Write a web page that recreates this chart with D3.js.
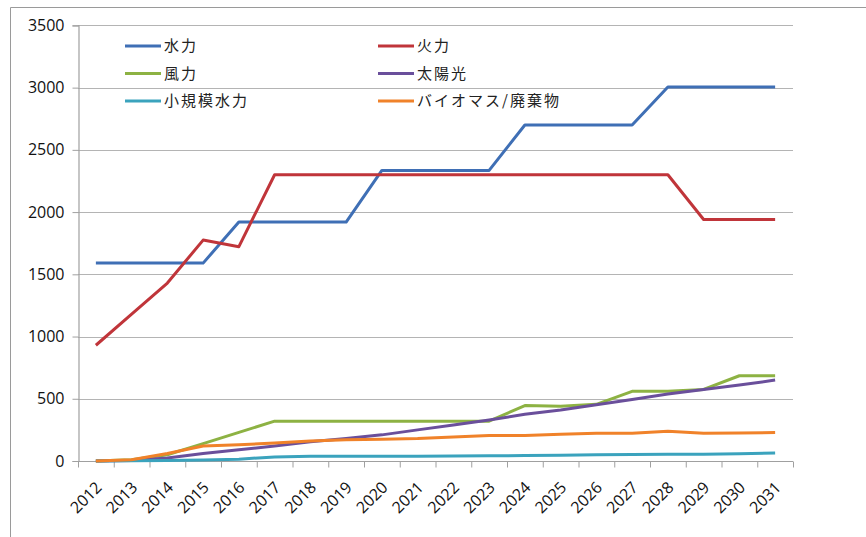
<!DOCTYPE html>
<html><head><meta charset="utf-8">
<script src="https://cdn.jsdelivr.net/npm/d3@7/dist/d3.min.js"></script>
<style>
html,body{margin:0;padding:0;background:#fff;}
svg{display:block;}
</style></head>
<body>
<svg id="c" width="866" height="537"></svg>
<script>
const years = ["2012","2013","2014","2015","2016","2017","2018","2019","2020","2021","2022","2023","2024","2025","2026","2027","2028","2029","2030","2031"];
const seriesNames = ["水力","火力","風力","太陽光","小規模水力","バイオマス/廃棄物"];
const seriesColors = ["#3f6fb5","#c0353a","#8db243","#6a4f9b","#3ba3bd","#f0822a"];
const hydro   = [1590,1590,1590,1590,1920,1920,1920,1920,2335,2335,2335,2335,2700,2700,2700,2700,3005,3005,3005,3005];
const thermal = [930,1180,1430,1775,1722,2300,2300,2300,2300,2300,2300,2300,2300,2300,2300,2300,2300,1940,1940,1940];
const wind    = [0,10,50,140,230,320,320,320,320,320,320,320,445,440,455,560,560,575,685,685];
const solar   = [0,5,25,60,90,120,155,180,210,250,290,330,375,410,452,495,538,575,610,650];
const smallHydro = [0,2,5,8,15,32,38,38,38,38,40,42,44,46,50,52,54,55,58,64];
const biomass = [0,10,60,120,130,145,160,170,175,180,192,204,204,214,222,223,240,222,225,228];
const yTicks = [0,500,1000,1500,2000,2500,3000,3500];
const seriesValues = [hydro,thermal,wind,solar,smallHydro,biomass];

(function(){
const svg = d3.select("#c");
const pl = 78, pr = 793, pt = 25.4, pb = 461;

// outer frame
svg.append("path").attr("d","M10.5,540 L10.5,7.5 L870,7.5").attr("fill","none").attr("stroke","#9a9a9a").attr("stroke-width",1);

const x = d3.scaleBand().domain(years).range([pl,pr]).padding(0);
const y = d3.scaleLinear().domain([0,3500]).range([pb,pt]);

// gridlines
svg.append("g").selectAll("line").data(yTicks.filter(d=>d>0)).join("line")
  .attr("x1",pl).attr("x2",pr)
  .attr("y1",d=>Math.round(y(d))+0.5).attr("y2",d=>Math.round(y(d))+0.5)
  .attr("stroke","#b4b4b4").attr("stroke-width",1.2);

// y axis
const yAxis = svg.append("g").attr("transform",`translate(${pl+0.5},0)`)
  .call(d3.axisLeft(y).tickValues(yTicks).tickSize(6).tickPadding(8).tickFormat(d3.format("d")));
yAxis.select(".domain").attr("stroke","#a0a0a0").attr("stroke-width",1.2);
yAxis.selectAll(".tick line").attr("stroke","#a0a0a0");
yAxis.selectAll("text").attr("font-family","'Open Sans', sans-serif").attr("font-size",16).attr("fill","#111");

// x axis
const xg = svg.append("g").attr("transform",`translate(0,${pb+0.5})`);
xg.append("line").attr("x1",pl).attr("x2",pr).attr("stroke","#a0a0a0").attr("stroke-width",1.2);
const bounds = years.map(d=>x(d)).concat([pr]);
xg.selectAll("line.tk").data(bounds).join("line").attr("class","tk")
  .attr("x1",d=>d+0.5).attr("x2",d=>d+0.5).attr("y1",0).attr("y2",6).attr("stroke","#a0a0a0");
xg.selectAll("text").data(years).join("text")
  .attr("transform",d=>`translate(${x(d)+x.bandwidth()/2+3},${23}) rotate(-45)`)
  .attr("text-anchor","end").attr("dy","0.35em")
  .attr("font-family","'Open Sans', sans-serif").attr("font-size",16).attr("fill","#111")
  .text(d=>d);

// lines
const line = d3.line().x((d,i)=>x(years[i])+x.bandwidth()/2).y(d=>y(d));
svg.append("g").selectAll("path").data(seriesValues).join("path")
  .attr("d",d=>line(d)).attr("fill","none")
  .attr("stroke",(d,i)=>seriesColors[i]).attr("stroke-width",3)
  .attr("stroke-linejoin","round");

// legend
const legPos = [[125,46],[378,46],[125,73.5],[378,73.5],[125,101],[378,101]];
const leg = svg.append("g").selectAll("g").data(seriesNames).join("g")
  .attr("transform",(d,i)=>`translate(${legPos[i][0]},${legPos[i][1]})`);
leg.append("line").attr("x1",0).attr("x2",36).attr("y1",0).attr("y2",0)
  .attr("stroke",(d,i)=>seriesColors[i]).attr("stroke-width",3);
leg.append("text").attr("x",39).attr("dy","0.35em")
  .attr("font-family","'Noto Sans CJK JP', sans-serif").attr("font-size",15)
  .attr("letter-spacing","2px").attr("fill","#222").text(d=>d);
})();
</script>
</body></html>
